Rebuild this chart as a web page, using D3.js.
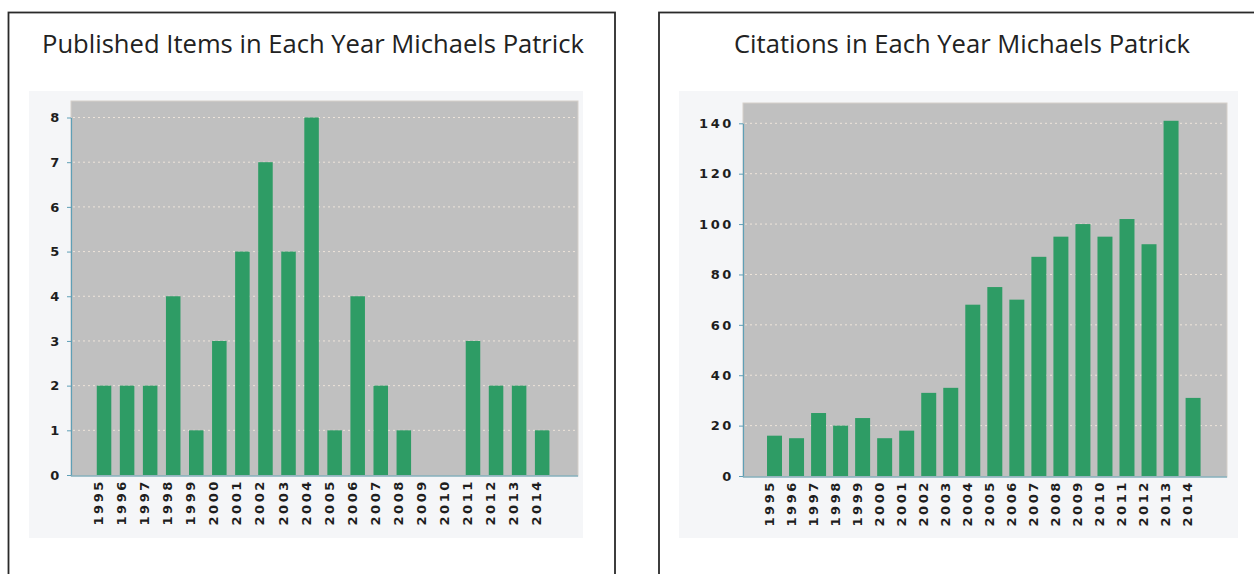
<!DOCTYPE html>
<html>
<head>
<meta charset="utf-8">
<style>
  html, body { margin: 0; padding: 0; background: #fff; }
  svg { display: block; }
</style>
</head>
<body>
<svg width="1254" height="574"></svg>
<script src="https://d3js.org/d3.v7.min.js"></script>
<script>

var years = ["1995", "1996", "1997", "1998", "1999", "2000", "2001", "2002", "2003", "2004",
             "2005", "2006", "2007", "2008", "2009", "2010", "2011", "2012", "2013", "2014"];

var publishedItems = [2, 2, 2, 4, 1, 3, 5, 7, 5, 8, 1, 4, 2, 1, 0, 0, 3, 2, 2, 1];

var citations = [16, 15, 25, 20, 23, 15, 18, 33, 35, 68, 75, 70, 87, 95, 100, 95, 102, 92, 141, 31];

var publishedTicks = [0, 1, 2, 3, 4, 5, 6, 7, 8];
var citationTicks = [0, 20, 40, 60, 80, 100, 120, 140];

var titles = ["Published Items in Each Year Michaels Patrick", "Citations in Each Year Michaels Patrick"];

var svg = d3.select("svg");

var green = "#2e9c65",
    plotGrey = "#c0c0c0",
    axisBlue = "#5f9fb6";

function drawChart(opt) {
  var g = svg.append("g");

  // panel frame, runs past the bottom edge of the picture
  g.append("rect")
      .attr("x", opt.frame[0])
      .attr("y", 12.5)
      .attr("width", opt.frame[1] - opt.frame[0])
      .attr("height", 620)
      .attr("fill", "none")
      .attr("stroke", "#2a2a2a")
      .attr("stroke-width", 1.8);

  g.append("text")
      .attr("x", opt.titleX)
      .attr("y", 53)
      .attr("text-anchor", "middle")
      .attr("font-family", "Open Sans, sans-serif")
      .attr("font-size", 25.6)
      .attr("fill", "#222")
      .text(opt.title);

  // image background of the chart
  g.append("rect")
      .attr("x", opt.bg[0])
      .attr("y", 91)
      .attr("width", opt.bg[1] - opt.bg[0])
      .attr("height", 447)
      .attr("fill", "#f5f6f8");

  var x = d3.scaleBand()
      .domain(years)
      .range(opt.band)
      .paddingInner(opt.pad)
      .paddingOuter(opt.pad / 2);

  var y = d3.scaleLinear()
      .domain([0, opt.max])
      .range(opt.yRange);

  var p = opt.plot;

  g.append("rect")
      .attr("x", p.left)
      .attr("y", p.top)
      .attr("width", p.right - p.left)
      .attr("height", p.bottom - p.top)
      .attr("fill", plotGrey)
      .attr("stroke", "#d6d0ca")
      .attr("stroke-width", 1);

  // dashed grid
  g.append("g")
    .selectAll("line")
    .data(opt.ticks.filter(function(d) { return d > 0; }))
    .enter().append("line")
      .attr("x1", p.left + 2)
      .attr("x2", p.right - 2)
      .attr("y1", function(d) { return y(d); })
      .attr("y2", function(d) { return y(d); })
      .attr("stroke", "#eee4da")
      .attr("stroke-width", 1)
      .attr("stroke-dasharray", "2,3");

  g.append("g")
    .selectAll("rect")
    .data(opt.values)
    .enter().append("rect")
      .attr("x", function(d, i) { return x(years[i]); })
      .attr("y", function(d) { return y(d); })
      .attr("width", x.bandwidth())
      .attr("height", function(d) { return y(0) - y(d); })
      .attr("fill", green);

  var yAxis = g.append("g")
      .attr("transform", "translate(" + p.left + ",0)")
      .call(d3.axisLeft(y).tickValues(opt.ticks).tickSize(4).tickSizeOuter(0).tickPadding(5).tickFormat(d3.format("d")));

  var xAxis = g.append("g")
      .attr("transform", "translate(0," + p.bottom + ")")
      .call(d3.axisBottom(x).tickSize(0).tickPadding(0));

  // bottom axis line runs the full plot width
  xAxis.select(".domain").remove();
  xAxis.append("line")
      .attr("class", "domain")
      .attr("x1", p.left)
      .attr("x2", p.right);

  xAxis.selectAll("text")
      .attr("transform", "translate(-1,3) rotate(-90)")
      .attr("x", 0)
      .attr("y", 0)
      .attr("dy", 0)
      .attr("text-anchor", "end");

  [yAxis, xAxis].forEach(function(a) {
    a.select(".domain").attr("stroke", axisBlue).attr("stroke-width", 1.2);
    a.selectAll(".tick line").attr("stroke", axisBlue);
    a.selectAll("text")
        .attr("font-family", "DejaVu Sans, sans-serif")
        .attr("font-weight", "bold")
        .attr("font-size", 13)
        .attr("letter-spacing", "2.6px")
        .attr("fill", "#1e1e1e");
  });
}

drawChart({
  title: titles[0],
  values: publishedItems,
  ticks: publishedTicks,
  max: 8,
  frame: [8.5, 615],
  titleX: 313,
  bg: [29, 583],
  plot: {left: 71, top: 101, right: 578, bottom: 476},
  band: [92.5, 553.7],
  pad: 0.37,
  yRange: [475, 117.5]
});

drawChart({
  title: titles[1],
  values: citations,
  ticks: citationTicks,
  max: 140,
  frame: [659, 1300],
  titleX: 962,
  bg: [679, 1238],
  plot: {left: 743, top: 103, right: 1227, bottom: 477},
  band: [763.5, 1204.1],
  pad: 0.32,
  yRange: [476, 123.3]
});

</script>
</body>
</html>
